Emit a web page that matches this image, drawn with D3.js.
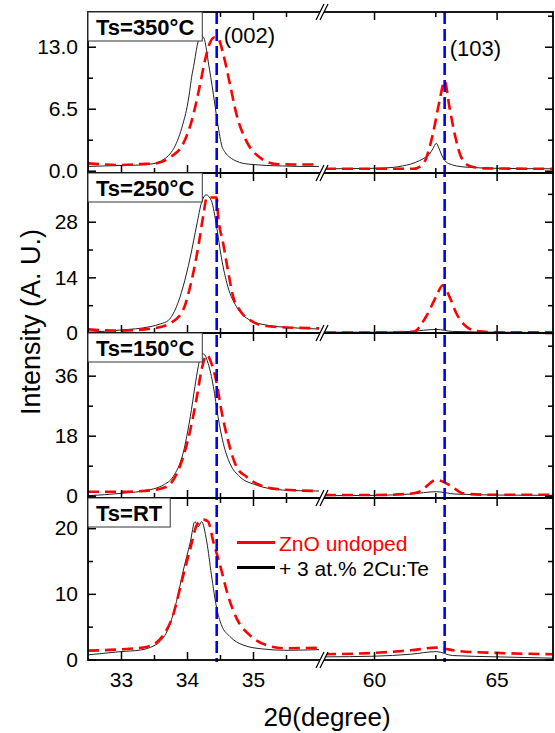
<!DOCTYPE html>
<html><head><meta charset="utf-8">
<script src="https://cdn.jsdelivr.net/npm/d3@7"></script>
<style>body{margin:0;background:#fff} text{font-family:"Liberation Sans",Arial,Helvetica,sans-serif}</style>
</head><body><svg id="chart" width="555" height="733"></svg>
<script>
// ---------- data ----------
const panelLabels = ["Ts=350°C", "Ts=250°C", "Ts=150°C", "Ts=RT"];
const yDomains = [[-0.24, 16.64], [0, 40.25], [-0.69, 48.8], [-0.08, 24.6]];
const yMajorTicks = [[0, 6.5, 13], [0, 14, 28], [0, 18, 36], [0, 10, 20]];
const yMinorTicks = [[3.25, 9.75, 16.25], [7, 21, 35], [9, 27, 45], [5, 15]];
const yTickFormats = [".1f", "d", "d", "d"];
const xSegments = [[32.5, 36], [58, 67.3]];
const xMajorTicks = [[33, 34, 35], [60, 65]];
const xMinorTicks = [[33.5, 34.5, 35.5], [62.5]];
const refPeaks = [34.45, 62.88];
const refLabels = ["(002)", "(103)"];
const legendLabels = ["ZnO undoped", "+ 3 at.% 2Cu:Te"];

// ZnO undoped (red dashed)
const zno350 = [[32.5,0.77],[33.0,0.6],[33.3,0.7],[33.5,0.75],[33.74,1.4],[33.94,2.8],[34.07,5.2],[34.2,9.1],[34.27,11.5],[34.35,13.45],[34.42,14.0],[34.47,13.9],[34.55,12.2],[34.65,9.1],[34.75,5.9],[34.9,3.1],[35.1,1.4],[35.35,0.7],[35.6,0.65],[36.0,0.65],
  [58,0.2],[60,0.2],[61.6,0.2],[62.0,0.7],[62.4,3.85],[62.67,7.3],[62.88,9.4],[63.08,6.6],[63.29,3.85],[63.56,1.4],[63.9,0.5],[64.5,0.25],[67.3,0.2]];
const zno250 = [[32.5,0.9],[33.0,0.6],[33.5,1.2],[33.74,2.4],[33.94,5.75],[34.07,13.25],[34.17,21.6],[34.25,29.9],[34.3,34.1],[34.45,34.1],[34.47,29.9],[34.55,22.4],[34.62,15.75],[34.7,9.1],[34.8,5.75],[35.0,2.8],[35.2,1.75],[35.5,1.4],[36.0,1.2],
  [58,0.1],[60,0.15],[61.6,0.3],[62.12,4.1],[62.53,9.1],[62.8,12.0],[63.08,9.1],[63.36,4.9],[63.77,1.6],[64.2,0.5],[65,0.2],[67.3,0.15]];
const zno150 = [[32.5,1.2],[33.0,1.2],[33.44,1.6],[33.69,2.7],[33.89,8.7],[34.05,19.7],[34.15,29.7],[34.22,37.7],[34.3,42.2],[34.37,39.7],[34.45,33.7],[34.52,25.7],[34.62,16.7],[34.75,8.7],[34.9,5.7],[35.1,3.2],[35.4,1.9],[36.0,1.4],
  [58,0.2],[60,0.2],[61.3,0.5],[61.85,1.2],[62.54,4.7],[63.08,3.2],[63.63,0.7],[64.5,0.3],[67.3,0.3]];
const znoRT = [[32.5,1.35],[33.0,1.55],[33.4,1.95],[33.64,3.7],[33.79,6.8],[33.92,11.9],[34.05,16.9],[34.15,20.5],[34.25,21.3],[34.32,21.0],[34.4,17.9],[34.5,14.4],[34.62,9.8],[34.75,6.3],[34.95,3.7],[35.2,2.2],[35.5,1.7],[36.0,1.8],
  [58,0.8],[60,1.0],[61.5,1.4],[62.54,1.8],[63.4,1.3],[65,1.0],[67.3,0.8]];

// + 3 at.% 2Cu:Te (black solid)
const cu350 = [[32.5,0.45],[33.0,0.55],[33.3,0.6],[33.5,0.75],[33.65,1.2],[33.74,1.75],[33.82,2.6],[33.89,3.8],[33.95,5.2],[33.99,6.3],[34.04,8.3],[34.07,9.8],[34.11,11.3],[34.14,12.6],[34.17,13.6],[34.2,14.15],[34.25,14.0],[34.29,12.9],[34.32,11.5],[34.36,9.8],[34.4,8.0],[34.45,5.6],[34.49,3.9],[34.52,2.8],[34.58,1.9],[34.65,1.4],[34.75,1.0],[34.85,0.77],[35.0,0.65],[35.2,0.55],[35.45,0.5],[35.7,0.45],[36.0,0.45],
  [58,0.2],[59,0.22],[60,0.25],[60.8,0.35],[61.16,0.5],[61.5,0.7],[61.85,1.05],[62.1,1.4],[62.26,1.75],[62.4,2.3],[62.54,2.87],[62.64,2.4],[62.74,1.75],[62.85,1.2],[62.95,0.9],[63.15,0.65],[63.36,0.5],[63.9,0.35],[65,0.25],[67.3,0.2]];
const cu250 = [[32.5,0.2],[33.0,0.75],[33.44,1.6],[33.6,2.3],[33.72,3.2],[33.84,6.6],[33.94,11.6],[34.05,19.1],[34.15,27.4],[34.22,32.8],[34.29,34.75],[34.37,33.25],[34.45,26.6],[34.52,19.1],[34.62,11.6],[34.75,6.6],[34.95,3.25],[35.2,2.0],[35.53,1.4],[36.0,1.0],
  [58,0.2],[60,0.2],[61.5,0.4],[62.54,0.9],[63.2,0.4],[65,0.2],[67.3,0.1]];
const cu150 = [[32.5,0.0],[33.0,0.7],[33.44,1.8],[33.64,3.2],[33.79,5.7],[33.94,12.7],[34.05,23.7],[34.12,32.7],[34.17,38.7],[34.22,42.7],[34.27,42.2],[34.32,39.7],[34.4,32.7],[34.47,23.7],[34.55,15.7],[34.65,9.7],[34.8,5.7],[35.05,3.2],[35.45,1.7],[36.0,1.4],
  [58,0.0],[60,0.1],[61.5,0.5],[62.54,1.2],[63.3,0.5],[65,0.2],[67.3,0.1]];
const cuRT = [[32.5,0.7],[33.0,1.2],[33.3,1.45],[33.5,2.1],[33.59,2.7],[33.74,5.3],[33.84,8.8],[33.94,13.4],[34.05,17.9],[34.12,21.0],[34.17,20.2],[34.22,21.0],[34.3,17.9],[34.37,12.9],[34.45,7.8],[34.52,5.3],[34.65,3.5],[34.85,2.2],[35.15,1.6],[35.5,1.4],[36.0,1.5],
  [58,0.4],[60,0.5],[61.5,0.8],[62.54,1.2],[63.2,0.6],[65,0.4],[67.3,0.2]];

const znoSeries = [zno350, zno250, zno150, znoRT];
const cuSeries = [cu350, cu250, cu150, cuRT];

// ---------- layout ----------
const svg = d3.select("#chart");
const L = 88, R = 553;
const segRanges = [[88, 319], [325, 553]];
const tops = [12, 173, 333, 498], bottoms = [173, 333, 498, 660];
const FONT = 21;

const xs = xSegments.map((d, i) => d3.scaleLinear().domain(d).range(segRanges[i]));
const defs = svg.append("defs");

const curveLayer = svg.append("g");
const refLayer = svg.append("g");
const frameLayer = svg.append("g");
const boxLayer = svg.append("g");

panelLabels.forEach((lab, p) => {
  const y = d3.scaleLinear().domain(yDomains[p]).range([bottoms[p], tops[p]]);
  // curves per segment
  xs.forEach((x, s) => {
    const id = `clip${p}_${s}`;
    defs.append("clipPath").attr("id", id).append("rect")
      .attr("x", segRanges[s][0]).attr("y", tops[p])
      .attr("width", segRanges[s][1] - segRanges[s][0]).attr("height", bottoms[p] - tops[p]);
    const inSeg = d => d[0] >= xSegments[s][0] && d[0] <= xSegments[s][1];
    const line = d3.line().x(d => x(d[0])).y(d => y(d[1])).curve(d3.curveMonotoneX);
    const g = curveLayer.append("g").attr("clip-path", `url(#${id})`);
    g.append("path").datum(cuSeries[p].filter(inSeg)).attr("d", line)
      .attr("fill", "none").attr("stroke", "#222").attr("stroke-width", 1);
    g.append("path").datum(znoSeries[p].filter(inSeg)).attr("d", line)
      .attr("fill", "none").attr("stroke", "#ff0000").attr("stroke-width", 2.6)
      .attr("stroke-dasharray", "11,6");
  });

  // frame
  frameLayer.append("rect").attr("x", L).attr("y", tops[p]).attr("width", R - L)
    .attr("height", bottoms[p] - tops[p]).attr("fill", "none")
    .attr("stroke", "#000").attr("stroke-width", 1.8);

  // y axes
  const fmt = d3.format(yTickFormats[p]);
  const yl = frameLayer.append("g").attr("transform", `translate(${L},0)`)
    .call(d3.axisLeft(y).tickValues(yMajorTicks[p]).tickSize(-8).tickPadding(10).tickFormat(fmt));
  yl.selectAll("text").attr("font-size", FONT).attr("fill", "#000");
  frameLayer.append("g").attr("transform", `translate(${L},0)`)
    .call(d3.axisLeft(y).tickValues(yMinorTicks[p]).tickSize(-5).tickFormat(""));
  frameLayer.append("g").attr("transform", `translate(${R},0)`)
    .call(d3.axisRight(y).tickValues(yMajorTicks[p]).tickSize(-8).tickFormat(""));
  frameLayer.append("g").attr("transform", `translate(${R},0)`)
    .call(d3.axisRight(y).tickValues(yMinorTicks[p]).tickSize(-5).tickFormat(""));

  // x ticks top & bottom
  xs.forEach((x, s) => {
    frameLayer.append("g").attr("transform", `translate(0,${tops[p]})`)
      .call(d3.axisTop(x).tickValues(xMajorTicks[s]).tickSize(-8).tickFormat(""));
    frameLayer.append("g").attr("transform", `translate(0,${tops[p]})`)
      .call(d3.axisTop(x).tickValues(xMinorTicks[s]).tickSize(-5).tickFormat(""));
    const last = p === panelLabels.length - 1;
    const xb = frameLayer.append("g").attr("transform", `translate(0,${bottoms[p]})`)
      .call(d3.axisBottom(x).tickValues(xMajorTicks[s]).tickSize(-8).tickPadding(12)
        .tickFormat(last ? d3.format("d") : ""));
    xb.selectAll("text").attr("font-size", FONT).attr("fill", "#000");
    frameLayer.append("g").attr("transform", `translate(0,${bottoms[p]})`)
      .call(d3.axisBottom(x).tickValues(xMinorTicks[s]).tickSize(-5).tickFormat(""));
  });

  // label box
  const bg = boxLayer.append("g");
  const t = bg.append("text").attr("x", 96).attr("y", tops[p] + 23)
    .attr("font-size", 22).attr("font-weight", "bold").attr("fill", "#000").text(lab);
  const w = t.node().getComputedTextLength();
  bg.insert("rect", "text").attr("x", L).attr("y", tops[p]).attr("width", w + 16)
    .attr("height", 29).attr("fill", "#fff").attr("stroke", "#333").attr("stroke-width", 1);
});

frameLayer.selectAll(".domain").remove();
frameLayer.selectAll(".tick line").attr("stroke", "#000").attr("stroke-width", 1.5);

// break marks
const bx = (segRanges[0][1] + segRanges[1][0]) / 2;
const breakYs = [...tops, bottoms[bottoms.length - 1]];
const brk = svg.append("g");
breakYs.forEach(by => {
  brk.append("polygon")
    .attr("points", `${bx - 6},${by + 8} ${bx + 2},${by - 8} ${bx + 6},${by - 8} ${bx - 2},${by + 8}`)
    .attr("fill", "#fff");
  [-6, -2].forEach(o => {
    brk.append("line").attr("x1", bx + o).attr("y1", by + 8).attr("x2", bx + o + 8).attr("y2", by - 8)
      .attr("stroke", "#000").attr("stroke-width", 1.3);
  });
});

// reference lines
refPeaks.forEach((v, i) => {
  const x = xs[i];
  refLayer.append("line").attr("x1", x(v)).attr("x2", x(v)).attr("y1", tops[0]).attr("y2", bottoms[3] + 2)
    .attr("stroke", "#0000ff").attr("stroke-width", 2.6).attr("stroke-dasharray", "12,5");
});
svg.append("text").attr("x", xs[0](34.45) + 7).attr("y", 43).attr("font-size", 22).text(refLabels[0]);
svg.append("text").attr("x", xs[1](62.88) + 5).attr("y", 56).attr("font-size", 22).text(refLabels[1]);

// legend
const leg = svg.append("g");
[["#ff0000", 542.5], ["#000", 567.5]].forEach((d, i) => {
  leg.append("line").attr("x1", 237).attr("x2", 275).attr("y1", d[1]).attr("y2", d[1])
    .attr("stroke", d[0]).attr("stroke-width", 3);
  leg.append("text").attr("x", 279).attr("y", d[1] + 8).attr("font-size", 21)
    .attr("fill", d[0]).text(legendLabels[i]);
});

// axis titles
svg.append("text").attr("x", 327).attr("y", 726).attr("text-anchor", "middle")
  .attr("font-size", 26).text("2θ(degree)");
svg.append("text").attr("transform", "translate(40,322) rotate(-90)").attr("text-anchor", "middle")
  .attr("font-size", 27).text("Intensity (A. U.)");
</script></body></html>
